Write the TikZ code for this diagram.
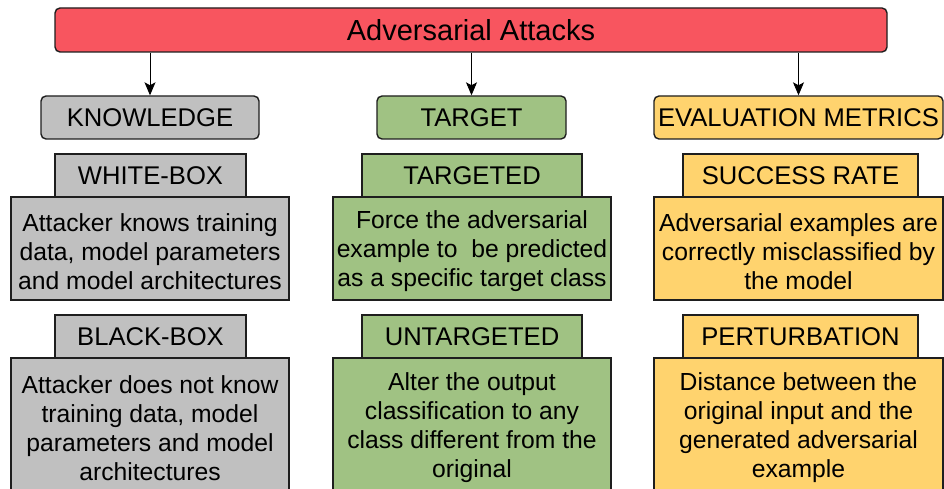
\documentclass[tikz,border=0pt]{standalone}
\usepackage{fontspec}
\setmainfont{Liberation Sans}
\usetikzlibrary{arrows.meta}
\definecolor{cred}{HTML}{F8555F}
\definecolor{cgray}{HTML}{C0C0C0}
\definecolor{cgreen}{HTML}{A0C283}
\definecolor{cyellow}{HTML}{FFD36E}
\definecolor{cborder}{HTML}{1E1E1E}
\tikzset{
  box/.style={draw=cborder, line width=1.4pt, inner sep=0pt, align=center, text=black},
  topbox/.style={box, rounded corners=5pt, fill=cred, minimum width=832pt, minimum height=44pt, font=\fontsize{29}{33}\selectfont},
  headbox/.style={box, rounded corners=5pt, minimum height=43pt, font=\fontsize{25.6}{30}\selectfont},
  subbox/.style={box, minimum height=43pt, font=\fontsize{25.6}{30}\selectfont},
  descbox/.style={box},
  desctext/.style={inner sep=0pt, align=center, text=black, font=\fontsize{24.7}{29}\selectfont},
  arr/.style={-{Stealth[length=13pt,width=11pt,inset=3pt]}, line width=0.9pt, draw=black}
}
\begin{document}
\begin{tikzpicture}[x=1pt,y=-1pt]
\useasboundingbox (0,0) rectangle (944,489);
\fill[white] (0,0) rectangle (944,489);
\clip (0,0) rectangle (944,489);

\node[topbox] (top) at (471,30) {Adversarial Attacks};

\node[headbox, fill=cgray, minimum width=218pt] (know) at (150,117.5) {KNOWLEDGE};
\node[headbox, fill=cgreen, minimum width=189pt] (targ) at (471.5,117.5) {TARGET};
\node[headbox, fill=cyellow, minimum width=289pt] (eval) at (798.5,117.5) {EVALUATION METRICS};

\node[subbox, fill=cgray, minimum width=191pt] (wb) at (150.5,175.5) {WHITE-BOX};
\node[subbox, fill=cgreen, minimum width=220pt] (tgd) at (472,175.5) {TARGETED};
\node[subbox, fill=cyellow, minimum width=235pt] (sr) at (800.5,175.5) {SUCCESS RATE};

\node[descbox, fill=cgray, minimum width=278pt, minimum height=103pt] (wbd) at (150,248.5) {};
\node[descbox, fill=cgreen, minimum width=278pt, minimum height=103pt] (tgdd) at (472,248.5) {};
\node[descbox, fill=cyellow, minimum width=289pt, minimum height=103pt] (srd) at (798.5,248.5) {};
\node[desctext] (wbdt) at ([yshift=-3pt]wbd.center)
  {Attacker knows training\\data, model parameters\\and model architectures};
\node[desctext] (tgddt) at ([yshift=-3pt]tgdd.center)
  {Force the adversarial\\example to\ \ be predicted\\as a specific target class};
\node[desctext] (srdt) at ([yshift=-3pt]srd.center)
  {Adversarial examples are\\correctly misclassified by\\the model};

\node[subbox, fill=cgray, minimum width=191pt] (bb) at (150.5,336.5) {BLACK-BOX};
\node[subbox, fill=cgreen, minimum width=220pt] (utg) at (472,336.5) {UNTARGETED};
\node[subbox, fill=cyellow, minimum width=235pt] (pt) at (800.5,336.5) {PERTURBATION};

\node[descbox, fill=cgray, minimum width=278pt, minimum height=137pt] (bbd) at (150,426.5) {};
\node[descbox, fill=cgreen, minimum width=278pt, minimum height=137pt] (utgd) at (472,426.5) {};
\node[descbox, fill=cyellow, minimum width=289pt, minimum height=137pt] (ptd) at (798.5,426.5) {};
\node[desctext] (bbdt) at ([yshift=-1.5pt]bbd.center)
  {Attacker does not know\\training data, model\\parameters and model\\architectures};
\node[desctext] (utgdt) at ([yshift=-1.5pt]utgd.center)
  {Alter the output\\classification to any\\class different from the\\original};
\node[desctext] (ptdt) at ([yshift=-1.5pt]ptd.center)
  {Distance between the\\original input and the\\generated adversarial\\example};

\draw[arr] (top.south -| know.north) -- (know.north);
\draw[arr] (top.south -| targ.north) -- (targ.north);
\draw[arr] (top.south -| eval.north) -- (eval.north);
\end{tikzpicture}
\end{document}
